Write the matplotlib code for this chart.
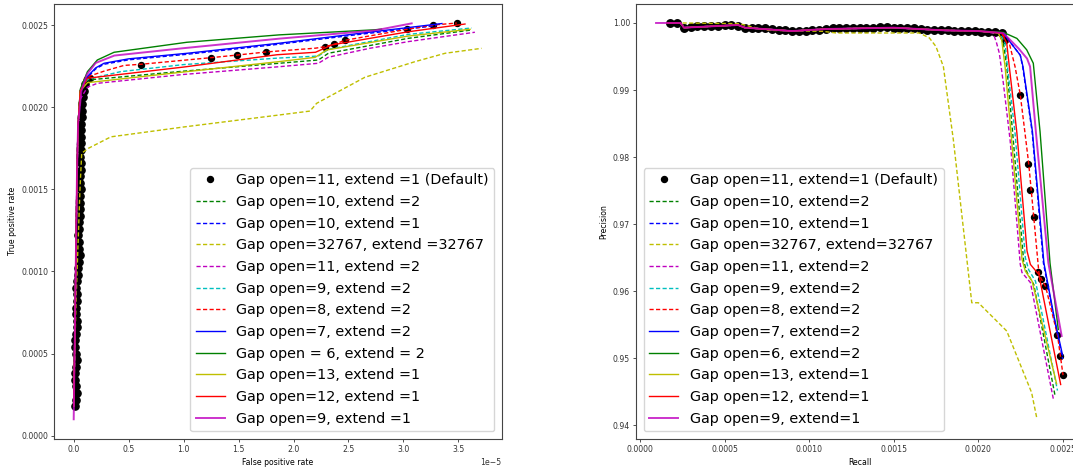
import numpy as np
import matplotlib
matplotlib.use("Agg")
import matplotlib.pyplot as plt

# ---------------- data ----------------
labels_left = ["Gap open=11, extend =1 (Default)", "Gap open=10, extend =2", "Gap open=10, extend =1",
               "Gap open=32767, extend =32767", "Gap open=11, extend =2", "Gap open=9, extend =2",
               "Gap open=8, extend =2", "Gap open=7, extend =2", "Gap open = 6, extend = 2",
               "Gap open=13, extend =1", "Gap open=12, extend =1", "Gap open=9, extend =1"]
labels_right = ["Gap open=11, extend=1 (Default)", "Gap open=10, extend=2", "Gap open=10, extend=1",
                "Gap open=32767, extend=32767", "Gap open=11, extend=2", "Gap open=9, extend=2",
                "Gap open=8, extend=2", "Gap open=7, extend=2", "Gap open=6, extend=2",
                "Gap open=13, extend=1", "Gap open=12, extend=1", "Gap open=9, extend=1"]

# default run (black dots): dense part (shared TPR = recall)
black_tpr_dense = [0.00018, 0.00022, 0.00026, 0.00030, 0.00034, 0.00038, 0.00042, 0.00046, 0.00050, 0.00054,
                   0.00058, 0.00062, 0.00066, 0.00070, 0.00074, 0.00078, 0.00082, 0.00086, 0.00090, 0.00094,
                   0.00098, 0.00102, 0.00106, 0.00110, 0.00114, 0.00118, 0.00122, 0.00126, 0.00130, 0.00134,
                   0.00138, 0.00142, 0.00146, 0.00150, 0.00154, 0.00158, 0.00162, 0.00166, 0.00170, 0.00174,
                   0.00178, 0.00182, 0.00186, 0.00190, 0.00194, 0.00198, 0.00202, 0.00206, 0.00210, 0.00214]
black_fpr_dense = [0.01, 0.02, 0.03, 0.02, 0.01, 0.015, 0.02, 0.03, 0.02, 0.015,
                   0.015, 0.02, 0.03, 0.03, 0.02, 0.02, 0.03, 0.03, 0.025, 0.03,
                   0.035, 0.04, 0.05, 0.06, 0.05, 0.045, 0.04, 0.045, 0.05, 0.055,
                   0.055, 0.06, 0.06, 0.065, 0.06, 0.06, 0.065, 0.065, 0.06, 0.065,
                   0.065, 0.065, 0.07, 0.07, 0.075, 0.075, 0.08, 0.085, 0.09, 0.10]
black_prec_dense = [1.0000, 1.0000, 0.9993, 0.9994, 0.9995, 0.9995, 0.9996, 0.9996, 0.9997, 0.9997,
                    0.9996, 0.9993, 0.9993, 0.9993, 0.9992, 0.9991, 0.9990, 0.9989, 0.9988, 0.9988,
                    0.9988, 0.9989, 0.9990, 0.9991, 0.9992, 0.9992, 0.9992, 0.9992, 0.9993, 0.9993,
                    0.9993, 0.9994, 0.9994, 0.9993, 0.9993, 0.9993, 0.9992, 0.9991, 0.9990, 0.9990,
                    0.9989, 0.9989, 0.9988, 0.9988, 0.9988, 0.9988, 0.9987, 0.9987, 0.9986, 0.9985]
# sparse part
black_fpr_sparse = [0.148, 0.613, 1.247, 1.486, 1.753, 2.287, 2.371, 2.469, 3.033, 3.272, 3.485]
black_tpr_sparse = [0.002177, 0.002258, 0.002302, 0.002318, 0.002337, 0.002369, 0.002384, 0.002408,
                    0.002475, 0.002501, 0.002515]
black_rec_sparse = [0.00216, 0.002249, 0.002298, 0.00231, 0.002333, 0.002357, 0.002373, 0.002398,
                    0.002469, 0.002485, 0.002503]
black_prec_sparse = [0.99747, 0.98933, 0.97897, 0.97515, 0.97103, 0.96284, 0.9619, 0.96076,
                     0.95347, 0.95034, 0.94751]

# ---- left panel (FPR in units of 1e-5, TPR) ----
vert_fpr = [0.00, 0.01, 0.02, 0.03, 0.04]
vert_tpr = [0.00018, 0.0006, 0.0011, 0.0016, 0.0019]

g_dash_fpr = [0.06, 0.125, 1.0, 1.868, 2.226, 2.317, 3.045, 3.62]
g_dash_tpr = [0.0021, 0.002166, 0.00222, 0.002268, 0.002288, 0.002329, 0.00242, 0.002471]
b_dash_fpr = [0.06, 0.1, 0.2, 0.276, 0.5, 1.034, 1.868, 2.6, 3.30]
b_dash_tpr = [0.00209, 0.002164, 0.002234, 0.002262, 0.002289, 0.002323, 0.002384, 0.002444, 0.002497]
y_dash_fpr = [0.00, 0.02, 0.036, 0.057, 0.073, 0.133, 0.338, 1.0, 1.868, 2.15, 2.21, 2.65, 3.106, 3.38, 3.71]
y_dash_tpr = [0.00018, 0.0008, 0.0011, 0.0015, 0.00172, 0.00175, 0.00182, 0.00188, 0.001953, 0.001977,
              0.002024, 0.002183, 0.002278, 0.002329, 0.002359]
m_dash_fpr = [0.06, 0.125, 0.215, 1.0, 1.868, 2.226, 2.317, 2.7, 3.045, 3.65]
m_dash_tpr = [0.00205, 0.002122, 0.002146, 0.0022, 0.002247, 0.002268, 0.002305, 0.00236, 0.0024, 0.002457]
c_dash_fpr = [0.06, 0.125, 0.427, 1.0, 1.868, 2.226, 2.317, 3.045, 3.62]
c_dash_tpr = [0.0021, 0.00217, 0.002217, 0.00226, 0.0023, 0.002312, 0.002353, 0.002444, 0.002483]
r_dash_fpr = [0.06, 0.10, 0.276, 0.458, 0.613, 1.247, 1.486, 1.753, 2.2, 2.287, 2.371, 2.469, 3.033, 3.272, 3.485]
r_dash_tpr = [0.0021, 0.00218, 0.00222, 0.002255, 0.002262, 0.002302, 0.002318, 0.002337, 0.00236,
              0.002369, 0.002384, 0.002408, 0.002475, 0.002501, 0.002513]
b_sol_fpr = [0.06, 0.1, 0.2, 0.276, 0.5, 1.034, 1.868, 2.6, 3.35]
b_sol_tpr = [0.0021, 0.00217, 0.00224, 0.002268, 0.002295, 0.002329, 0.00239, 0.00245, 0.00251]
g_sol_fpr = [0.06, 0.125, 0.215, 0.367, 1.03, 1.87, 2.74, 2.80]
g_sol_tpr = [0.00211, 0.002217, 0.002288, 0.002335, 0.002396, 0.002441, 0.002472, 0.002476]
y_sol_fpr = [0.06, 0.125, 1.0, 1.868, 2.196, 2.302, 3.045, 3.606]
y_sol_tpr = [0.0021, 0.00215, 0.002215, 0.002278, 0.002304, 0.002349, 0.002434, 0.002475]
r_sol_fpr = [0.06, 0.125, 1.0, 1.85, 2.2, 2.35, 3.045, 3.56]
r_sol_tpr = [0.0021, 0.002177, 0.002245, 0.00232, 0.002335, 0.00238, 0.00246, 0.002507]
m_sol_fpr = [0.0, 0.07, 0.12, 0.2, 0.37, 1.0, 1.87, 2.74, 3.075]
m_sol_tpr = [0.0001, 0.0021, 0.0022, 0.00227, 0.002315, 0.00236, 0.002418, 0.002468, 0.002511]

# ---- right panel (recall, precision) ----
flat_rec = [0.00016, 0.00024, 0.00026, 0.00058, 0.00062, 0.0009, 0.0011, 0.0015, 0.0018, 0.0020]
flat_prec = [1.0, 1.0, 0.9993, 0.9997, 0.9993, 0.9988, 0.9991, 0.9993, 0.9989, 0.9988]

g_dash_rec = [0.00212, 0.00215, 0.00217, 0.002205, 0.00227, 0.00229, 0.00233, 0.002456]
g_dash_prec = [0.9985, 0.9970, 0.9935, 0.9836, 0.9645, 0.9628, 0.9610, 0.9444]
b_dash_rec = [0.00215, 0.00221, 0.00225, 0.002264, 0.00232, 0.002387, 0.00245, 0.002501]
b_dash_prec = [0.9985, 0.9965, 0.9952, 0.9935, 0.9838, 0.9642, 0.9560, 0.9499]
y_dash_rec = [0.000252, 0.000588, 0.000686, 0.000765, 0.001081, 0.00116, 0.001653, 0.001712, 0.001751,
              0.001795, 0.001854, 0.001963, 0.002002, 0.00217, 0.002317, 0.002347]
y_dash_prec = [1.0, 0.9999, 0.99926, 0.9989, 0.99876, 0.99851, 0.99851, 0.99777, 0.9965,
               0.9935, 0.98259, 0.95829, 0.95829, 0.95407, 0.9449, 0.94118]
m_dash_rec = [0.00209, 0.00211, 0.002126, 0.00215, 0.00219, 0.00225, 0.00226, 0.00231, 0.002446]
m_dash_prec = [0.9985, 0.9970, 0.9955, 0.9910, 0.9825, 0.9640, 0.9628, 0.9613, 0.9439]
c_dash_rec = [0.00213, 0.00216, 0.002174, 0.002219, 0.00228, 0.0023, 0.00234, 0.00247]
c_dash_prec = [0.9985, 0.9970, 0.9935, 0.9836, 0.9650, 0.9632, 0.9615, 0.9452]
r_dash_rec = [0.00214, 0.00218, 0.002219, 0.00225, 0.002278, 0.0023, 0.00233, 0.00236, 0.002373, 0.0024,
              0.00247, 0.002503]
r_dash_prec = [0.9985, 0.9975, 0.9935, 0.9893, 0.98358, 0.9790, 0.9710, 0.9628, 0.9619, 0.9607,
               0.9535, 0.9475]
b_sol_rec = [0.00215, 0.00221, 0.00225, 0.002266, 0.002322, 0.00239, 0.00245, 0.0025]
b_sol_prec = [0.9985, 0.9965, 0.9952, 0.9935, 0.9838, 0.9642, 0.9562, 0.9505]
g_sol_rec = [0.00215, 0.00223, 0.002288, 0.002327, 0.002367, 0.002426, 0.002475]
g_sol_prec = [0.9986, 0.9977, 0.9960, 0.9940, 0.9838, 0.9642, 0.9543]
y_sol_rec = [0.00212, 0.00214, 0.00216, 0.002195, 0.00226, 0.00228, 0.00232, 0.002465]
y_sol_prec = [0.9985, 0.9975, 0.9935, 0.9836, 0.9648, 0.9630, 0.9615, 0.9462]
r_sol_rec = [0.00214, 0.00217, 0.002185, 0.00223, 0.00229, 0.00231, 0.00236, 0.002489]
r_sol_prec = [0.9985, 0.9970, 0.9935, 0.9836, 0.9660, 0.9640, 0.9625, 0.9461]
m_sol_rec = [0.000095, 0.00215, 0.00224, 0.00229, 0.002308, 0.002343, 0.002416, 0.002495]
m_sol_prec = [1.0, 0.9985, 0.9962, 0.9947, 0.9935, 0.98358, 0.96424, 0.95333]

# ---------------- plotting ----------------
plt.rcParams['font.family'] = ['DejaVu Sans']
fig = plt.figure(figsize=(10.73, 4.68), dpi=100)
W, H = 1073.0, 468.0
ax1 = fig.add_axes([54.3 / W, (H - 438.7) / H, 447.4 / W, 434.7 / H])
ax2 = fig.add_axes([636.3 / W, (H - 438.7) / H, 448.2 / W, 434.7 / H])

DASH = (0, (3.0, 1.7))
LW = 1.0
styles = [('g', DASH), ('b', DASH), ('y', DASH), ('m', DASH), ('c', DASH), ('r', DASH),
          ('b', '-'), ('g', '-'), ('y', '-'), ('r', '-'), ('m', '-')]

E5 = 1e-5
left_series = [
    (vert_fpr + g_dash_fpr, vert_tpr + g_dash_tpr),
    (vert_fpr + b_dash_fpr, vert_tpr + b_dash_tpr),
    (y_dash_fpr, y_dash_tpr),
    (vert_fpr + m_dash_fpr, vert_tpr + m_dash_tpr),
    (vert_fpr + c_dash_fpr, vert_tpr + c_dash_tpr),
    (vert_fpr + r_dash_fpr, vert_tpr + r_dash_tpr),
    (vert_fpr + b_sol_fpr, vert_tpr + b_sol_tpr),
    (vert_fpr + g_sol_fpr, vert_tpr + g_sol_tpr),
    (vert_fpr + y_sol_fpr, vert_tpr + y_sol_tpr),
    (vert_fpr + r_sol_fpr, vert_tpr + r_sol_tpr),
    (m_sol_fpr[:1] + vert_fpr[1:] + m_sol_fpr[1:], m_sol_tpr[:1] + vert_tpr[1:] + m_sol_tpr[1:]),
]
right_series = [
    (flat_rec + g_dash_rec, flat_prec + g_dash_prec),
    (flat_rec + b_dash_rec, flat_prec + b_dash_prec),
    (y_dash_rec, y_dash_prec),
    (flat_rec + m_dash_rec, flat_prec + m_dash_prec),
    (flat_rec + c_dash_rec, flat_prec + c_dash_prec),
    (flat_rec + r_dash_rec, flat_prec + r_dash_prec),
    (flat_rec + b_sol_rec, flat_prec + b_sol_prec),
    (flat_rec + g_sol_rec, flat_prec + g_sol_prec),
    (flat_rec + y_sol_rec, flat_prec + y_sol_prec),
    (flat_rec + r_sol_rec, flat_prec + r_sol_prec),
    (m_sol_rec[:1] + flat_rec + m_sol_rec[1:], m_sol_prec[:1] + flat_prec + m_sol_prec[1:]),
]

# black default run: dense run drawn with slightly bigger dots, sparse points normal size
ax1.plot(np.array(black_fpr_dense) * E5, black_tpr_dense, 'o', color='k', ms=5.2)
ax1.plot(np.array(black_fpr_sparse) * E5, black_tpr_sparse, 'o', color='k', ms=4.3, label=labels_left[0])
ax2.plot(black_tpr_dense, black_prec_dense, 'o', color='k', ms=5.4)
ax2.plot(black_rec_sparse, black_prec_sparse, 'o', color='k', ms=4.3, label=labels_right[0])

for i, ((c, ls), (xs, ys), (rx, ry)) in enumerate(zip(styles, left_series, right_series)):
    lw = LW
    kw = {}
    if i == len(styles) - 1:
        lw = 1.4
        kw = dict(alpha=0.8)
    ax1.plot(np.array(xs) * E5, ys, color=c, linestyle=ls, lw=lw, label=labels_left[i + 1], **kw)
    ax2.plot(rx, ry, color=c, linestyle=ls, lw=lw, label=labels_right[i + 1], **kw)

ax1.set_xlim(-0.1765e-5, 3.894e-5)
ax1.set_ylim(-0.0000183, 0.002629)
ax2.set_xlim(-0.0000219, 0.00263)
ax2.set_ylim(0.93802, 1.00283)

ax1.set_xlabel("False positive rate", fontsize=5.6, labelpad=3)
ax1.set_ylabel("True positive rate", fontsize=5.6, labelpad=3)
ax2.set_xlabel("Recall", fontsize=5.6, labelpad=3)
ax2.set_ylabel("Precision", fontsize=5.6, labelpad=3)

for ax in (ax1, ax2):
    ax.tick_params(labelsize=5.6, length=2.5, width=0.6, pad=2, colors='#333333')
    for s in ax.spines.values():
        s.set_linewidth(0.8)
        s.set_color('#444444')
    ax.xaxis.get_offset_text().set_fontsize(5.6)

leg_kw = dict(fontsize=10.4, labelspacing=0.53, framealpha=0.8)
ax1.legend(loc='lower right', **leg_kw)
ax2.legend(loc='lower left', **leg_kw)

fig.savefig("out.png", dpi=100)
